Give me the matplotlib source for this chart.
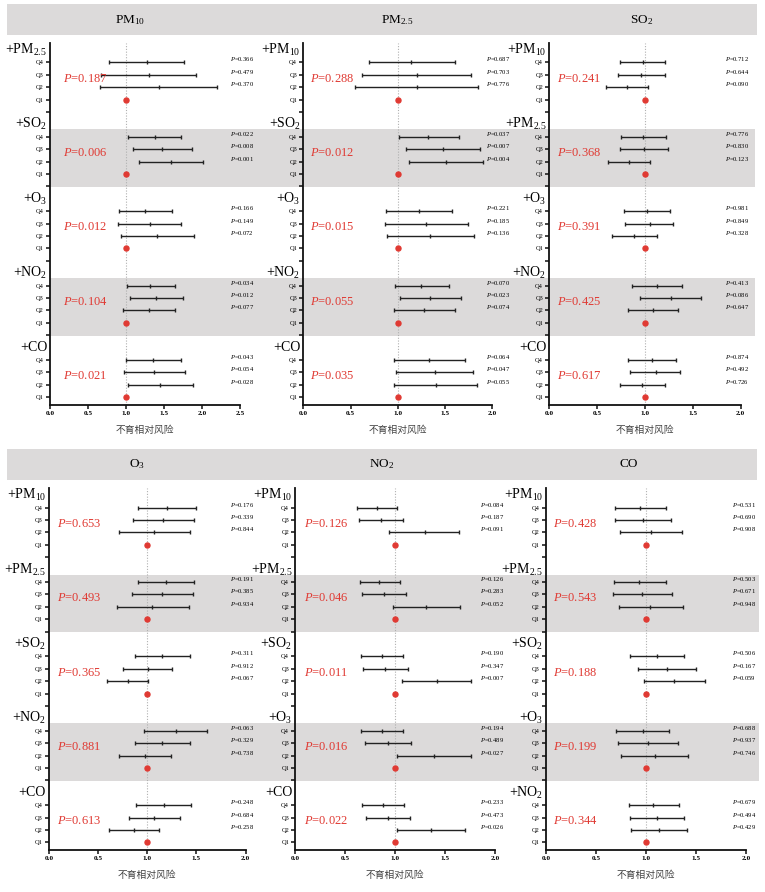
import matplotlib
matplotlib.use("Agg")
import matplotlib.pyplot as plt
from matplotlib.patches import Rectangle
from matplotlib.transforms import blended_transform_factory

plt.rcParams["font.family"] = ["Liberation Serif", "DejaVu Serif"]
plt.rcParams["mathtext.fontset"] = "custom"
plt.rcParams["mathtext.rm"] = "Liberation Serif"
plt.rcParams["mathtext.it"] = "Liberation Serif:italic"

QUARTILES = ["Q4", "Q3", "Q2", "Q1"]
X_LABEL = "不育相对风险"
LBL = {
    "PM10": "PM$_{\\mathrm{10}}$",
    "PM25": "PM$_{\\mathrm{2.5}}$",
    "SO2": "SO$_{\\mathrm{2}}$",
    "O3": "O$_{\\mathrm{3}}$",
    "NO2": "NO$_{\\mathrm{2}}$",
    "CO": "CO",
}

# ---- PM10 panel ----
PM10_GROUPS = ["PM25", "SO2", "O3", "NO2", "CO"]
PM10_LO = [[0.78, 0.67, 0.66], [1.03, 1.09, 1.17], [0.91, 0.89, 0.94], [1.01, 1.05, 0.96], [1.00, 0.98, 1.02]]
PM10_EST = [[1.27, 1.30, 1.43], [1.38, 1.48, 1.59], [1.25, 1.31, 1.41], [1.32, 1.40, 1.30], [1.36, 1.37, 1.45]]
PM10_HI = [[1.76, 1.92, 2.20], [1.72, 1.87, 2.01], [1.60, 1.73, 1.89], [1.64, 1.75, 1.65], [1.72, 1.77, 1.88]]
PM10_P = [[0.366, 0.479, 0.370], [0.022, 0.008, 0.001], [0.166, 0.149, 0.072], [0.034, 0.012, 0.077], [0.043, 0.054, 0.028]]
PM10_PT = [0.187, 0.006, 0.012, 0.104, 0.021]

# ---- PM2.5 panel ----
PM25_GROUPS = ["PM10", "SO2", "O3", "NO2", "CO"]
PM25_LO = [[0.70, 0.62, 0.55], [1.01, 1.09, 1.12], [0.88, 0.86, 0.89], [0.97, 1.02, 0.96], [0.96, 0.98, 0.96]]
PM25_EST = [[1.14, 1.20, 1.20], [1.32, 1.48, 1.51], [1.22, 1.30, 1.34], [1.25, 1.34, 1.28], [1.33, 1.39, 1.40]]
PM25_HI = [[1.60, 1.77, 1.85], [1.65, 1.87, 1.90], [1.57, 1.74, 1.81], [1.54, 1.67, 1.60], [1.71, 1.80, 1.84]]
PM25_P = [[0.687, 0.703, 0.776], [0.037, 0.007, 0.004], [0.221, 0.185, 0.136], [0.070, 0.023, 0.074], [0.064, 0.047, 0.055]]
PM25_PT = [0.288, 0.012, 0.015, 0.055, 0.035]

# ---- SO2 panel ----
SO2_GROUPS = ["PM10", "PM25", "O3", "NO2", "CO"]
SO2_LO = [[0.74, 0.72, 0.59], [0.75, 0.74, 0.61], [0.78, 0.79, 0.66], [0.86, 0.95, 0.82], [0.82, 0.84, 0.74]]
SO2_EST = [[0.98, 0.96, 0.81], [0.98, 0.99, 0.83], [1.02, 1.05, 0.89], [1.13, 1.27, 1.08], [1.07, 1.11, 0.97]]
SO2_HI = [[1.21, 1.21, 1.03], [1.22, 1.24, 1.05], [1.26, 1.29, 1.13], [1.39, 1.58, 1.34], [1.32, 1.37, 1.21]]
SO2_P = [[0.712, 0.644, 0.090], [0.776, 0.830, 0.123], [0.981, 0.849, 0.328], [0.413, 0.086, 0.647], [0.874, 0.492, 0.726]]
SO2_PT = [0.241, 0.368, 0.391, 0.425, 0.617]

# ---- O3 panel ----
O3_GROUPS = ["PM10", "PM25", "SO2", "NO2", "CO"]
O3_LO = [[0.91, 0.85, 0.71], [0.91, 0.84, 0.69], [0.87, 0.75, 0.59], [0.97, 0.87, 0.71], [0.89, 0.81, 0.61]]
O3_EST = [[1.20, 1.16, 1.07], [1.19, 1.15, 1.05], [1.15, 1.01, 0.80], [1.29, 1.15, 0.98], [1.17, 1.07, 0.86]]
O3_HI = [[1.50, 1.48, 1.43], [1.47, 1.46, 1.42], [1.43, 1.25, 1.01], [1.61, 1.43, 1.24], [1.44, 1.33, 1.12]]
O3_P = [[0.176, 0.339, 0.844], [0.191, 0.385, 0.934], [0.311, 0.912, 0.067], [0.063, 0.329, 0.738], [0.248, 0.684, 0.258]]
O3_PT = [0.653, 0.493, 0.365, 0.881, 0.613]

# ---- NO2 panel ----
NO2_GROUPS = ["PM10", "PM25", "SO2", "O3", "CO"]
NO2_LO = [[0.62, 0.64, 0.94], [0.65, 0.67, 0.98], [0.66, 0.68, 1.07], [0.66, 0.70, 1.02], [0.67, 0.71, 1.02]]
NO2_EST = [[0.82, 0.86, 1.30], [0.84, 0.89, 1.31], [0.87, 0.90, 1.42], [0.87, 0.93, 1.39], [0.88, 0.93, 1.36]]
NO2_HI = [[1.02, 1.08, 1.64], [1.05, 1.11, 1.65], [1.08, 1.13, 1.76], [1.08, 1.16, 1.76], [1.09, 1.15, 1.70]]
NO2_P = [[0.084, 0.187, 0.091], [0.126, 0.283, 0.052], [0.190, 0.347, 0.007], [0.194, 0.489, 0.027], [0.233, 0.473, 0.026]]
NO2_PT = [0.126, 0.046, 0.011, 0.016, 0.022]

# ---- CO panel ----
CO_GROUPS = ["PM10", "PM25", "SO2", "O3", "NO2"]
CO_LO = [[0.69, 0.69, 0.74], [0.68, 0.67, 0.73], [0.84, 0.92, 0.98], [0.70, 0.72, 0.75], [0.83, 0.84, 0.85]]
CO_EST = [[0.94, 0.97, 1.05], [0.93, 0.96, 1.04], [1.11, 1.21, 1.28], [0.97, 1.02, 1.09], [1.07, 1.11, 1.13]]
CO_HI = [[1.20, 1.25, 1.36], [1.20, 1.26, 1.37], [1.38, 1.50, 1.59], [1.23, 1.32, 1.42], [1.33, 1.38, 1.41]]
CO_P = [[0.531, 0.690, 0.908], [0.503, 0.671, 0.948], [0.506, 0.167, 0.059], [0.688, 0.937, 0.746], [0.679, 0.494, 0.429]]
CO_PT = [0.428, 0.543, 0.188, 0.199, 0.344]

PANELS = [
    ("PM10", PM10_GROUPS, PM10_LO, PM10_EST, PM10_HI, PM10_P, PM10_PT),
    ("PM25", PM25_GROUPS, PM25_LO, PM25_EST, PM25_HI, PM25_P, PM25_PT),
    ("SO2", SO2_GROUPS, SO2_LO, SO2_EST, SO2_HI, SO2_P, SO2_PT),
    ("O3", O3_GROUPS, O3_LO, O3_EST, O3_HI, O3_P, O3_PT),
    ("NO2", NO2_GROUPS, NO2_LO, NO2_EST, NO2_HI, NO2_P, NO2_PT),
    ("CO", CO_GROUPS, CO_LO, CO_EST, CO_HI, CO_P, CO_PT),
]

# layout in pixels (figure 765 x 892)
W, H = 765, 892
AX_LEFT = [50, 303.3, 549.3, 49, 295.3, 546]
AX_WIDTH = [190, 189, 191.4, 196.6, 200, 200]
AX_TOP = [42.6, 42.6, 42.6, 487.8, 487.8, 487.8]
AX_HEIGHT = 362.3
XMAX = [2.5, 2.0, 2.0, 2.0, 2.0, 2.0]
BIG_P_X = [0.175, 0.07, 0.08, 0.08, 0.085, 0.07]
SMALL_P_X = [2.37, 1.93, 1.84, 1.84, 1.85, 1.86]
TITLE_X = [130, 397, 642, 137, 382, 629]
HEADER_Y = [(4.5, 35), (448.5, 479.5)]
BAND_X = [(50, 755), (49, 759)]

RED = "#e03a33"
GRAY = "#dcdada"
YLIM = (28.62, -0.6)

fig = plt.figure(figsize=(W / 100, H / 100), dpi=100)

# header strips
for row, (y0, y1) in enumerate(HEADER_Y):
    fig.add_artist(Rectangle((7 / W, 1 - y1 / H), (757 - 7) / W, (y1 - y0) / H,
                             transform=fig.transFigure, color=GRAY, zorder=0, lw=0))

axes = []
for i, (name, groups, lo, est, hi, pv, pt) in enumerate(PANELS):
    ax = fig.add_axes([AX_LEFT[i] / W, 1 - (AX_TOP[i] + AX_HEIGHT) / H,
                       AX_WIDTH[i] / W, AX_HEIGHT / H])
    ax.patch.set_visible(False)
    ax.set_xlim(0, XMAX[i])
    ax.set_ylim(*YLIM)
    axes.append(ax)

    # shaded bands across the whole row (drawn from the first axes of the row)
    if i % 3 == 0:
        bx0, bx1 = BAND_X[i // 3]
        tr = blended_transform_factory(fig.transFigure, ax.transData)
        for g in (1, 3):
            ax.add_patch(Rectangle((bx0 / W, g * 6 + 0.4), (bx1 - bx0) / W, 4.65,
                                   transform=tr, color=GRAY, lw=0, zorder=0, clip_on=False))

    fig.text(TITLE_X[i] / W, 1 - (sum(HEADER_Y[i // 3]) / 2) / H, LBL[name],
             ha="center", va="center", fontsize=9.5)

    ax.axvline(1.0, color="#b0b0b0", ls=(0, (1, 1.5)), lw=0.8, zorder=1)

    yticks, ylabels = [], []
    for g, grp in enumerate(groups):
        base = g * 6
        ax.text(-0.015, base, "+" + LBL[grp], transform=ax.get_yaxis_transform(),
                ha="right", va="center", fontsize=10)
        for q in range(3):
            y = base + 1 + q
            ax.errorbar(est[g][q], y, xerr=[[est[g][q] - lo[g][q]], [hi[g][q] - est[g][q]]],
                        fmt="|", color="#222222", ecolor="#222222", elinewidth=1.0,
                        capsize=1.6, capthick=1.0, markersize=3, mew=1.0, zorder=3)
            ax.text(SMALL_P_X[i], y - 0.25, f"$P$={pv[g][q]:.3f}", ha="left", va="center",
                    fontsize=4.7, clip_on=False)
        ax.plot(1.0, base + 4, "o", color=RED, ms=3.6, mec=RED, zorder=4)
        ax.text(BIG_P_X[i], base + 2.3, f"$P$={pt[g]:.3f}", ha="left", va="center",
                fontsize=9, color=RED)
        yticks += [base + 1, base + 2, base + 3, base + 4]
        ylabels += QUARTILES
        if g < len(groups) - 1:
            yticks.append(base + 5)
            ylabels.append("")

    ax.set_yticks(yticks)
    ax.set_yticklabels(ylabels, fontsize=4.6)
    xt = [k * 0.5 for k in range(int(XMAX[i] / 0.5) + 1)]
    ax.set_xticks(xt)
    ax.set_xticklabels([f"{v:.1f}" for v in xt], fontsize=5.2, fontweight="bold")
    ax.tick_params(axis="both", width=1.1, length=3, pad=1.5, color="#111111")
    for s in ("top", "right"):
        ax.spines[s].set_visible(False)
    for s in ("left", "bottom"):
        ax.spines[s].set_linewidth(1.3)
        ax.spines[s].set_color("#111111")
    ax.set_xlabel(X_LABEL, fontsize=7, color="#444444", labelpad=6,
                  family=["Noto Sans CJK SC", "DejaVu Sans"])

fig.savefig("out.png", dpi=100)
